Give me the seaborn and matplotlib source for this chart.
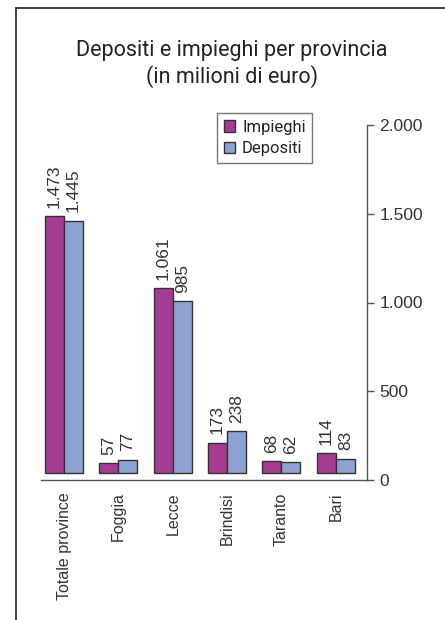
import matplotlib
matplotlib.use("Agg")
import matplotlib.pyplot as plt
from matplotlib.lines import Line2D
from matplotlib.patches import Patch
import seaborn as sns
import pandas as pd
import numpy as np

# data
province = ["Totale province", "Foggia", "Lecce", "Brindisi", "Taranto", "Bari"]
impieghi = [1473, 57, 1061, 173, 68, 114]
depositi = [1445, 77, 985, 238, 62, 83]
serie = ["Impieghi", "Depositi"]
colori = {"Impieghi": "#A63B94", "Depositi": "#8FA3D3"}
y_ticks = [0, 500, 1000, 1500, 2000]


def it_fmt(v):
    return f"{v:,}".replace(",", ".")


df = pd.DataFrame({
    "provincia": province * 2,
    "serie": ["Impieghi"] * len(province) + ["Depositi"] * len(province),
    "valore": impieghi + depositi,
})

sns.set_style("white")
plt.rcParams["font.family"] = ["Liberation Sans", "DejaVu Sans"]
text_col = "#333333"

fig = plt.figure(figsize=(4.45, 6.2), dpi=100)
ax = fig.add_axes([41 / 445, 140 / 620, 326 / 445, 355 / 620])

sns.barplot(data=df, x="provincia", y="valore", hue="serie", order=province,
            hue_order=serie, palette=colori, width=0.7, edgecolor="#333333",
            linewidth=1.0, saturation=1, ax=ax, legend=False)

# value labels over bars
for cont, vals in zip(ax.containers, [impieghi, depositi]):
    ax.bar_label(cont, labels=[it_fmt(v) for v in vals], rotation=90,
                 padding=6, fontsize=12.5, color=text_col)

# bars sit a little above the axis line, like the original
ax.set_ylim(-40, 1994)
lo = -0.5 + 0.075
ax.set_xlim(lo, lo + len(province))
ax.set_xticks(range(len(province)))
ax.set_xticklabels(province, rotation=90, fontsize=11.5, color=text_col)
ax.set_xticks(lo + np.arange(len(province) + 1), minor=True)
ax.tick_params(axis="x", which="major", length=0, pad=9)
ax.tick_params(axis="x", which="minor", length=5, width=1, color="#555555",
               direction="out")
ax.set_yticks([])
ax.set_xlabel("")
ax.set_ylabel("")
for s in ["left", "top", "right"]:
    ax.spines[s].set_visible(False)
ax.spines["bottom"].set_color("#555555")
ax.spines["bottom"].set_linewidth(1)

# right value axis
ax2 = ax.twinx()
ax2.set_ylim(0, 2000)
ax2.set_yticks(y_ticks)
ax2.set_yticklabels([it_fmt(t) for t in y_ticks], fontsize=12.5, color=text_col)
ax2.tick_params(axis="y", length=5, width=1, color="#555555", direction="out", pad=4)
for s in ["left", "top", "bottom"]:
    ax2.spines[s].set_visible(False)
ax2.spines["right"].set_color("#555555")
ax2.spines["right"].set_linewidth(1)

# legend
handles = [Patch(facecolor=colori[s], edgecolor="#333333", linewidth=1, label=s) for s in serie]
leg = fig.legend(handles=handles, loc="upper left", bbox_to_anchor=(217 / 445, 1 - 113 / 620),
                 bbox_transform=fig.transFigure, frameon=True, fancybox=False,
                 handlelength=0.7, handleheight=0.7, handletextpad=0.4,
                 labelspacing=0.4, borderpad=0.4, borderaxespad=0,
                 prop={"family": "Roboto", "size": 12})
leg.get_frame().set_edgecolor("#555555")
leg.get_frame().set_linewidth(1)
for t in leg.get_texts():
    t.set_color("#222222")

# title
fig.text(232 / 445, 1 - 64 / 620, "Depositi e impieghi per provincia\n(in milioni di euro)",
         ha="center", va="center", fontsize=15.5, family="Roboto", color="#222222",
         linespacing=1.2)

# frame lines (left and top only)
fig.add_artist(Line2D([16 / 445, 16 / 445], [0, 1 - 8 / 620], transform=fig.transFigure,
                      color="#222222", linewidth=1.2))
fig.add_artist(Line2D([16 / 445, 1], [1 - 8 / 620, 1 - 8 / 620], transform=fig.transFigure,
                      color="#222222", linewidth=1.2))

fig.savefig("out.png", dpi=100)
